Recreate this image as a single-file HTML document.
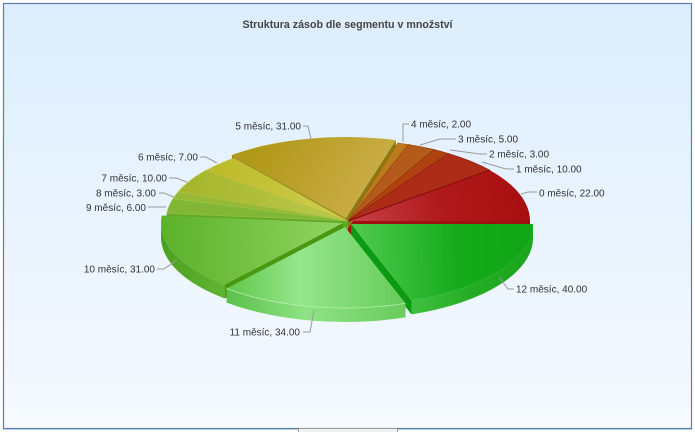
<!DOCTYPE html>
<html><head><meta charset="utf-8"><style>
html,body{margin:0;padding:0;background:#fff;}
svg{display:block;}
text{font-family:"Liberation Sans",Arial,sans-serif;}
</style></head><body>
<svg width="695" height="432" viewBox="0 0 695 432" xmlns="http://www.w3.org/2000/svg">
<defs>
<linearGradient id="bg" x1="0" y1="0" x2="0" y2="1"><stop offset="0" stop-color="#dcedfd"/><stop offset="1" stop-color="#f6faff"/></linearGradient>
<linearGradient id="g0" gradientUnits="userSpaceOnUse" x1="360" y1="220" x2="520" y2="190"><stop offset="0" stop-color="#c43c42"/><stop offset="0.5" stop-color="#b01a1c"/><stop offset="1" stop-color="#a80f10"/></linearGradient>
<linearGradient id="g5" gradientUnits="userSpaceOnUse" x1="380" y1="215" x2="260" y2="145"><stop offset="0" stop-color="#cdb04e"/><stop offset="1" stop-color="#b09818"/></linearGradient>
<linearGradient id="g6" gradientUnits="userSpaceOnUse" x1="330" y1="215" x2="220" y2="165"><stop offset="0" stop-color="#cdcb4c"/><stop offset="1" stop-color="#bdbb2a"/></linearGradient>
<linearGradient id="g7" gradientUnits="userSpaceOnUse" x1="330" y1="215" x2="190" y2="180"><stop offset="0" stop-color="#b9c84a"/><stop offset="1" stop-color="#a6b62c"/></linearGradient>
<linearGradient id="g10" gradientUnits="userSpaceOnUse" x1="165" y1="240" x2="330" y2="235"><stop offset="0" stop-color="#5cb22a"/><stop offset="1" stop-color="#8ed25e"/></linearGradient>
<linearGradient id="g11" gradientUnits="userSpaceOnUse" x1="230" y1="290" x2="405" y2="290"><stop offset="0" stop-color="#62c84e"/><stop offset="0.4" stop-color="#96e68c"/><stop offset="1" stop-color="#66cc5a"/></linearGradient>
<linearGradient id="g12" gradientUnits="userSpaceOnUse" x1="360" y1="240" x2="525" y2="235"><stop offset="0" stop-color="#4cc84c"/><stop offset="0.6" stop-color="#14aa1a"/><stop offset="1" stop-color="#10a616"/></linearGradient>
<linearGradient id="w10" gradientUnits="userSpaceOnUse" x1="161" y1="0" x2="225" y2="0"><stop offset="0" stop-color="#4c9f20"/><stop offset="1" stop-color="#62b532"/></linearGradient>
<linearGradient id="w11" gradientUnits="userSpaceOnUse" x1="226" y1="0" x2="405" y2="0"><stop offset="0" stop-color="#5ac04a"/><stop offset="0.45" stop-color="#8ee384"/><stop offset="1" stop-color="#6acb5e"/></linearGradient>
<linearGradient id="w12" gradientUnits="userSpaceOnUse" x1="411" y1="0" x2="533" y2="0"><stop offset="0" stop-color="#40c040"/><stop offset="0.5" stop-color="#24ad24"/><stop offset="1" stop-color="#1aa51c"/></linearGradient>
</defs>

<rect x="3.5" y="3.5" width="688" height="425" fill="url(#bg)" stroke="#5f7ea6" stroke-width="1.2"/>
<line x1="3" y1="429.5" x2="692" y2="429.5" stroke="#b8cbe2" stroke-width="1"/>
<rect x="298.5" y="428.5" width="99" height="6" fill="#f0f0f0" stroke="#9a9a9a" stroke-width="1"/>

<text x="347.5" y="28" text-anchor="middle" font-size="10.7" font-weight="bold" fill="#444" textLength="210" lengthAdjust="spacingAndGlyphs">Struktura zásob dle segmentu v množství</text>

<!-- radial faces and walls -->
<path d="M348,221 L530,221 L530,235 L348,235 Z" fill="#a01010"/>
<path d="M346,218 L395.8,140.1 L395.8,154.1 L346,232 Z" fill="#8c7a10"/>
<path d="M346,218 L231.9,154.9 L231.9,168.9 L346,232 Z" fill="#a48e1c"/>
<path d="M348,221 L166.8,213.5 L166.8,227.5 L348,235 Z" fill="#62a826"/>
<path d="M166.8,213.5 A182,81 0 0,0 166,221 L166,235 L166.8,227.5 Z" fill="#62a826"/>
<path d="M351,224 L411.5,300.4 L411.5,314.4 L351,238 Z" fill="#0c9a12"/>
<path d="M343,223 L224.6,284.5 L224.6,298.5 L343,237 Z" fill="#4a980f"/>
<path d="M161,223 A182,81 0 0,0 224.6,284.5 L224.6,298.5 A182,81 0 0,1 161,237 Z" fill="url(#w10)"/>
<path d="M226.6,288.5 A182,81 0 0,0 405.5,303.4 L405.5,317.4 A182,81 0 0,1 226.6,302.5 Z" fill="url(#w11)"/>
<path d="M411.5,300.4 A182,81 0 0,0 533,224 L533,238 A182,81 0 0,1 411.5,314.4 Z" fill="url(#w12)"/>

<!-- tops -->
<path d="M346,218 L395.8,140.1 A182,81 0 0,0 231.9,154.9 Z" fill="url(#g5)"/>
<path d="M348,221 L408.5,144.6 A182,81 0 0,0 397.8,143.1 Z" fill="#bb7a1c" stroke="#9a5a10" stroke-width="0.6"/>
<path d="M348,221 L434.1,149.6 A182,81 0 0,0 408.5,144.6 Z" fill="#b45a1a" stroke="#8e4010" stroke-width="0.6"/>
<path d="M348,221 L448.5,153.5 A182,81 0 0,0 434.1,149.6 Z" fill="#b0420f" stroke="#8a300c" stroke-width="0.6"/>
<path d="M348,221 L489.8,170.2 A182,81 0 0,0 448.5,153.5 Z" fill="#ad2c18" stroke="#8a1e10" stroke-width="0.6"/>
<path d="M348,221 L530,221 A182,81 0 0,0 489.8,170.2 Z" fill="url(#g0)"/>
<line x1="348" y1="221" x2="489.8" y2="170.2" stroke="#8a1010" stroke-width="1.2"/>
<path d="M348,221 L233.9,157.9 A182,81 0 0,0 206.2,170.2 Z" fill="url(#g6)"/>
<path d="M348,221 L206.2,170.2 A182,81 0 0,0 178.3,191.7 Z" fill="url(#g7)" stroke="#b8c440" stroke-width="0.6"/>
<path d="M348,221 L178.3,191.7 A182,81 0 0,0 173.0,198.8 Z" fill="#98b936" stroke="#a8c448" stroke-width="0.6"/>
<path d="M348,221 L173.0,198.8 A182,81 0 0,0 166.8,213.5 Z" fill="#82b736" stroke="#94c448" stroke-width="0.6"/>
<path d="M343,223 L161.8,215.5 A182,81 0 0,0 224.6,284.5 Z" fill="url(#g10)"/>
<path d="M351,224 L411.5,300.4 A182,81 0 0,0 533,224 Z" fill="url(#g12)"/>
<path d="M345,227 L226.6,288.5 A182,81 0 0,0 405.5,303.4 Z" fill="url(#g11)"/>
<path d="M226.6,288.5 A182,81 0 0,0 405.5,303.4" fill="none" stroke="#b4f0aa" stroke-width="0.8"/>

<!-- leader lines -->
<g fill="none" stroke="#9a9a9a" stroke-width="1">
<polyline points="521,194 528,192 537,192"/>
<polyline points="482,162 506,169 514,169"/>
<polyline points="450,150 480,154 487,154"/>
<polyline points="420,145 440,139 456,139"/>
<polyline points="403,142 403,124 409,124"/>
<polyline points="311,139 308,126 303,126"/>
<polyline points="217,163 206,157 200,157"/>
<polyline points="187,182 176,178 169,178"/>
<polyline points="174,197 164,193 159,193"/>
<polyline points="166,207 155,207 148,207"/>
<polyline points="177,260 164,269 157,269"/>
<polyline points="314,310 310,332 303,332"/>
<polyline points="499,277 508,289 514,289"/>
</g>

<g font-size="10" fill="#333">
<text x="539" y="196.5">0 měsíc, 22.00</text>
<text x="516" y="172.5">1 měsíc, 10.00</text>
<text x="489" y="157.5">2 měsíc, 3.00</text>
<text x="458" y="142.5">3 měsíc, 5.00</text>
<text x="411" y="127.5">4 měsíc, 2.00</text>
<text x="301" y="129.5" text-anchor="end">5 měsíc, 31.00</text>
<text x="198" y="160.5" text-anchor="end">6 měsíc, 7.00</text>
<text x="167" y="181.5" text-anchor="end">7 měsíc, 10.00</text>
<text x="156" y="196.5" text-anchor="end">8 měsíc, 3.00</text>
<text x="146" y="211" text-anchor="end">9 měsíc, 6.00</text>
<text x="155" y="272.5" text-anchor="end">10 měsíc, 31.00</text>
<text x="300" y="335.5" text-anchor="end">11 měsíc, 34.00</text>
<text x="516" y="292.5">12 měsíc, 40.00</text>
</g>
</svg>
</body></html>
